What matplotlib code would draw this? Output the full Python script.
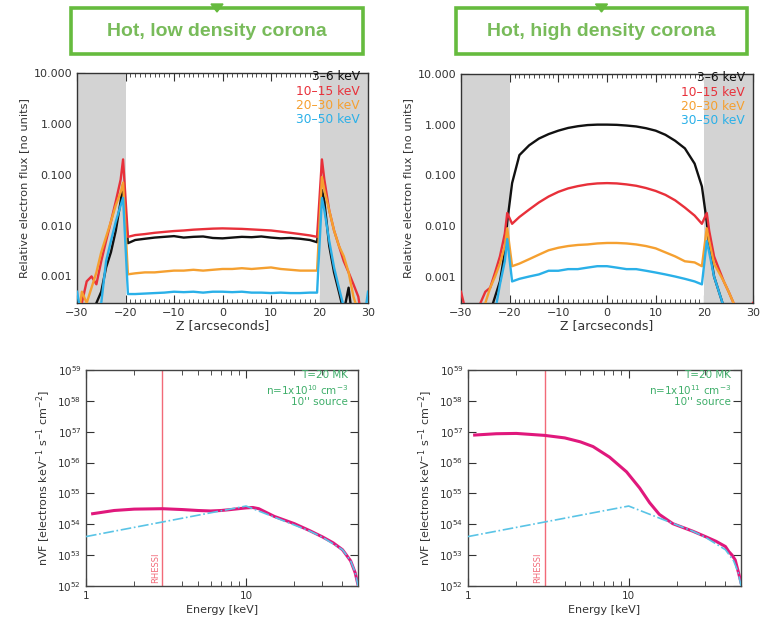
import matplotlib.pyplot as plt
from matplotlib.patches import Rectangle, Polygon
from matplotlib.ticker import FixedLocator, MultipleLocator, LogLocator, NullFormatter, FixedFormatter

plt.rcParams['font.family'] = ['DejaVu Sans']
plt.rcParams['axes.linewidth'] = 1.0

# ---- top panels: flux vs Z ----
z = [-30, -29, -28, -27, -26, -25, -24, -23, -22, -21, -20.5, -19.5,
     -18, -16, -14, -12, -10, -8, -6, -4, -2, 0, 2, 4, 6, 8, 10, 12, 14, 16, 18,
     19.5, 20.5, 21, 22, 23, 24, 25, 26, 27, 28, 29, 30]

band_labels = ['3\u20136 keV', '10\u201315 keV', '20\u201330 keV', '30\u201350 keV']
band_colors = ['#111111', '#e8303a', '#f5a030', '#2ab0e8']

# low density corona
low_36 = [1e-4, 1e-4, 1e-4, 2e-4, 3e-4, 5e-4, 1.5e-3, 3e-3, 8e-3, 0.03, 0.065, 0.0045,
          0.0052, 0.0055, 0.0058, 0.006, 0.0062, 0.0058, 0.006, 0.0061, 0.0057, 0.0056,
          0.0058, 0.006, 0.0059, 0.0061, 0.0058, 0.0056, 0.0057, 0.0055, 0.0052,
          0.0047, 0.05, 0.03, 0.004, 0.0012, 0.0005, 2e-4, 6e-4, 1e-4, 1e-4, 1e-4, 1e-4]
low_1015 = [1e-4, 3e-4, 8e-4, 1e-3, 7e-4, 2e-3, 5e-3, 0.012, 0.03, 0.08, 0.2, 0.006,
            0.0065, 0.0068, 0.0072, 0.0075, 0.0078, 0.008, 0.0083, 0.0085, 0.0087, 0.0088,
            0.0087, 0.0086, 0.0084, 0.0082, 0.008, 0.0076, 0.0072, 0.0068, 0.0064,
            0.006, 0.2, 0.08, 0.02, 0.008, 0.004, 0.002, 0.0012, 7e-4, 4e-4, 1e-4, 1e-4]
low_2030 = [1e-4, 5e-4, 3e-4, 6e-4, 1.2e-3, 3e-3, 6e-3, 0.012, 0.025, 0.045, 0.07, 0.0011,
            0.00115, 0.0012, 0.0012, 0.00125, 0.0013, 0.0013, 0.00135, 0.0013, 0.00135, 0.0014,
            0.0014, 0.00145, 0.0014, 0.00145, 0.0015, 0.0014, 0.00135, 0.0013, 0.0013,
            0.0013, 0.09, 0.05, 0.02, 0.008, 0.004, 0.0025, 0.0012, 4e-4, 2e-4, 1e-4, 1e-4]
low_3050 = [5e-4, 1.5e-4, 1e-4, 1e-4, 1e-4, 3e-4, 2e-3, 5e-3, 0.012, 0.025, 0.035, 0.00045,
            0.00045, 0.00046, 0.00047, 0.00048, 0.0005, 0.00049, 0.0005, 0.00048, 0.0005, 0.0005,
            0.00049, 0.0005, 0.00048, 0.00048, 0.00047, 0.00048, 0.00047, 0.00047, 0.00048,
            0.00048, 0.035, 0.02, 0.005, 0.0015, 6e-4, 2.5e-4, 1e-4, 1e-4, 1e-4, 1e-4, 5e-4]

# high density corona
high_36 = [1e-4, 1e-4, 1e-4, 1e-4, 1e-4, 1e-4, 2e-4, 4e-4, 8e-4, 3e-3, 0.012, 0.07,
           0.25, 0.39, 0.53, 0.65, 0.76, 0.86, 0.93, 0.98, 1.0, 1.0,
           0.99, 0.96, 0.92, 0.85, 0.76, 0.63, 0.48, 0.34, 0.17,
           0.06, 0.012, 0.004, 0.001, 5e-4, 2.5e-4, 1e-4, 1e-4, 1e-4, 1e-4, 1e-4, 1e-4]
high_1015 = [5e-4, 2e-4, 1e-4, 1e-4, 3e-4, 5e-4, 6e-4, 1.2e-3, 2.5e-3, 7e-3, 0.018, 0.011,
             0.015, 0.021, 0.029, 0.038, 0.047, 0.055, 0.061, 0.066, 0.069, 0.07,
             0.069, 0.066, 0.062, 0.056, 0.049, 0.041, 0.032, 0.023, 0.016,
             0.011, 0.018, 0.008, 0.0025, 0.0014, 8e-4, 5e-4, 3e-4, 1e-4, 1e-4, 1e-4, 3e-4]
high_2030 = [1e-4, 1e-4, 1e-4, 1e-4, 1e-4, 3e-4, 6e-4, 1e-3, 1.8e-3, 4e-3, 0.009, 0.0016,
             0.0018, 0.0022, 0.0027, 0.0033, 0.0037, 0.004, 0.0042, 0.0043, 0.0045, 0.0046,
             0.0046, 0.0045, 0.0043, 0.004, 0.0036, 0.003, 0.0025, 0.002, 0.0019,
             0.0016, 0.009, 0.005, 0.0018, 0.0012, 8e-4, 5e-4, 3e-4, 1e-4, 1e-4, 1e-4, 1e-4]
high_3050 = [1e-4, 1e-4, 1e-4, 1e-4, 1e-4, 1e-4, 1e-4, 2e-4, 7e-4, 2e-3, 0.0055, 0.0008,
             0.0009, 0.001, 0.0011, 0.0013, 0.0013, 0.0014, 0.0014, 0.0015, 0.0016, 0.0016,
             0.0015, 0.0014, 0.0014, 0.0013, 0.0012, 0.0011, 0.001, 0.0009, 0.0008,
             0.0007, 0.005, 0.003, 0.001, 5e-4, 2.5e-4, 1e-4, 1e-4, 1e-4, 1e-4, 1e-4, 1e-4]

# ---- bottom panels: spectra ----
e_model = [1, 10, 25, 30, 40, 45, 48, 50]
f_model = [4e53, 3.9e54, 6e53, 3.8e53, 1.5e53, 6.5e52, 2.8e52, 1e52]

e_low = [1.1, 1.5, 2, 3, 4, 5, 6, 7, 8, 10, 11, 12, 15, 20, 25, 30, 35, 40, 45, 48, 50]
f_low = [2.2e54, 2.8e54, 3.1e54, 3.2e54, 3e54, 2.8e54, 2.7e54, 2.8e54, 3e54, 3.4e54, 3.5e54,
         3.2e54, 1.8e54, 1.05e54, 6.2e53, 3.9e53, 2.5e53, 1.5e53, 6.5e52, 2.7e52, 1.1e52]

e_high = [1.1, 1.5, 2, 3, 4, 5, 6, 7.6, 9.7, 11.7, 13.5, 15.5, 18.8, 25, 30, 35, 40,
          42, 44, 46, 48, 50]
f_high = [7.8e56, 8.6e56, 8.8e56, 7.6e56, 6.3e56, 4.7e56, 3.3e56, 1.5e56, 5e55, 1.5e55,
          5e54, 2.1e54, 1.05e54, 6e53, 4e53, 2.8e53, 1.9e53, 1.3e53, 1e53, 7e52, 3e52, 1.3e52]

W, H = 760, 622
fig = plt.figure(figsize=(W / 100, H / 100), dpi=100)


def frame(x0, y0, x1, y1):
    return [x0 / W, 1 - y1 / H, (x1 - x0) / W, (y1 - y0) / H]


txt_col = '#333333'
green = '#66bb3e'


def top_panel(rect, curves):
    ax = fig.add_axes(rect)
    ax.axvspan(-30, -20, color='#d3d3d3', lw=0, zorder=1.8)
    ax.axvspan(20, 30, color='#d3d3d3', lw=0, zorder=1.8)
    for vals, c in zip(curves, band_colors):
        ax.plot(z, vals, color=c, lw=1.7, zorder=3)
    ax.set_yscale('log')
    ax.set_xlim(-30, 30)
    ax.set_ylim(3e-4, 10)
    ax.yaxis.set_major_locator(FixedLocator([0.001, 0.01, 0.1, 1, 10]))
    ax.yaxis.set_major_formatter(FixedFormatter(['0.001', '0.010', '0.100', '1.000', '10.000']))
    ax.yaxis.set_minor_locator(FixedLocator([]))
    ax.xaxis.set_major_locator(MultipleLocator(10))
    ax.xaxis.set_minor_locator(MultipleLocator(1))
    ax.tick_params(which='both', direction='in', top=True, right=True,
                   labelsize=8, colors=txt_col, labelcolor=txt_col)
    ax.tick_params(which='major', length=6, width=0.8)
    ax.tick_params(which='minor', length=3, width=0.6)
    ax.set_xlabel('Z [arcseconds]', fontsize=9, color=txt_col, labelpad=1)
    ax.set_ylabel('Relative electron flux [no units]', fontsize=8.2, color=txt_col, labelpad=3)
    ys = [0.983, 0.920, 0.857, 0.796]
    for lab, c, y in zip(band_labels, band_colors, ys):
        ax.text(0.972, y, lab, transform=ax.transAxes, ha='right', va='center',
                fontsize=8.8, color=c, zorder=5)
    for s in ax.spines.values():
        s.set_color('#333333')
    return ax


def bottom_panel(rect, e_obs, f_obs, dens):
    ax = fig.add_axes(rect)
    ax.plot(e_model, f_model, color='#5ac4e6', lw=1.2, ls='-.', zorder=3)
    ax.plot(e_obs, f_obs, color='#e0187c', lw=2.2, zorder=2.8)
    ax.axvline(3, color='#f26a78', lw=1.0, zorder=2)
    ax.text(2.72, 3.8e52, 'RHESSI', rotation=90, fontsize=6, color='#f26a78',
            ha='center', va='center')
    ax.set_xscale('log')
    ax.set_yscale('log')
    ax.set_xlim(1, 50)
    ax.set_ylim(1e52, 1e59)
    ax.yaxis.set_major_locator(FixedLocator([10.0 ** k for k in range(52, 60)]))
    ax.yaxis.set_minor_locator(FixedLocator([]))
    ax.xaxis.set_major_locator(FixedLocator([1, 10]))
    ax.xaxis.set_major_formatter(FixedFormatter(['1', '10']))
    ax.xaxis.set_minor_locator(LogLocator(base=10, subs=range(2, 10)))
    ax.xaxis.set_minor_formatter(NullFormatter())
    ax.tick_params(which='both', direction='in', top=True, right=True,
                   labelsize=7.5, colors=txt_col, labelcolor=txt_col)
    ax.tick_params(which='major', length=6, width=0.8)
    ax.tick_params(which='minor', length=3.5, width=0.6)
    ax.set_xlabel('Energy [keV]', fontsize=8, color=txt_col, labelpad=3)
    ax.set_ylabel('nVF [electrons keV$^{-1}$ s$^{-1}$ cm$^{-2}$]', fontsize=8,
                  color=txt_col, labelpad=3)
    note_col = '#3fae6a'
    ax.text(0.963, 0.977, 'T=20 MK', transform=ax.transAxes, ha='right', va='center',
            fontsize=7.5, color=note_col)
    ax.text(0.963, 0.907, 'n=1x10$^{%d}$ cm$^{-3}$' % dens, transform=ax.transAxes,
            ha='right', va='center', fontsize=7.5, color=note_col)
    ax.text(0.963, 0.850, "10'' source", transform=ax.transAxes, ha='right', va='center',
            fontsize=7.5, color=note_col)
    for s in ax.spines.values():
        s.set_color('#444444')
    return ax


top_panel(frame(77, 73, 368, 303), [low_36, low_1015, low_2030, low_3050])
top_panel(frame(461, 74, 753, 303), [high_36, high_1015, high_2030, high_3050])
bottom_panel(frame(86, 370, 358, 586), e_low, f_low, 10)
bottom_panel(frame(468, 370, 741, 586), e_high, f_high, 11)

# green title boxes
for (x0, x1, title) in [(71, 363, 'Hot, low density corona'),
                        (456, 747, 'Hot, high density corona')]:
    fig.add_artist(Rectangle((x0 / W, 1 - 54 / H), (x1 - x0) / W, 46 / H,
                             transform=fig.transFigure, fill=False,
                             edgecolor=green, lw=2.6))
    xm = (x0 + x1) / 2
    fig.add_artist(Polygon([((xm - 6) / W, 1 - 4 / H), ((xm + 6) / W, 1 - 4 / H),
                            (xm / W, 1 - 12 / H)], closed=True,
                           transform=fig.transFigure, color=green))
    fig.text(xm / W, 1 - 32 / H, title, ha='center', va='center', fontsize=14,
             fontweight='bold', color='#78bb5a', family=['Liberation Sans', 'DejaVu Sans'])

fig.savefig('out.png', dpi=100)
